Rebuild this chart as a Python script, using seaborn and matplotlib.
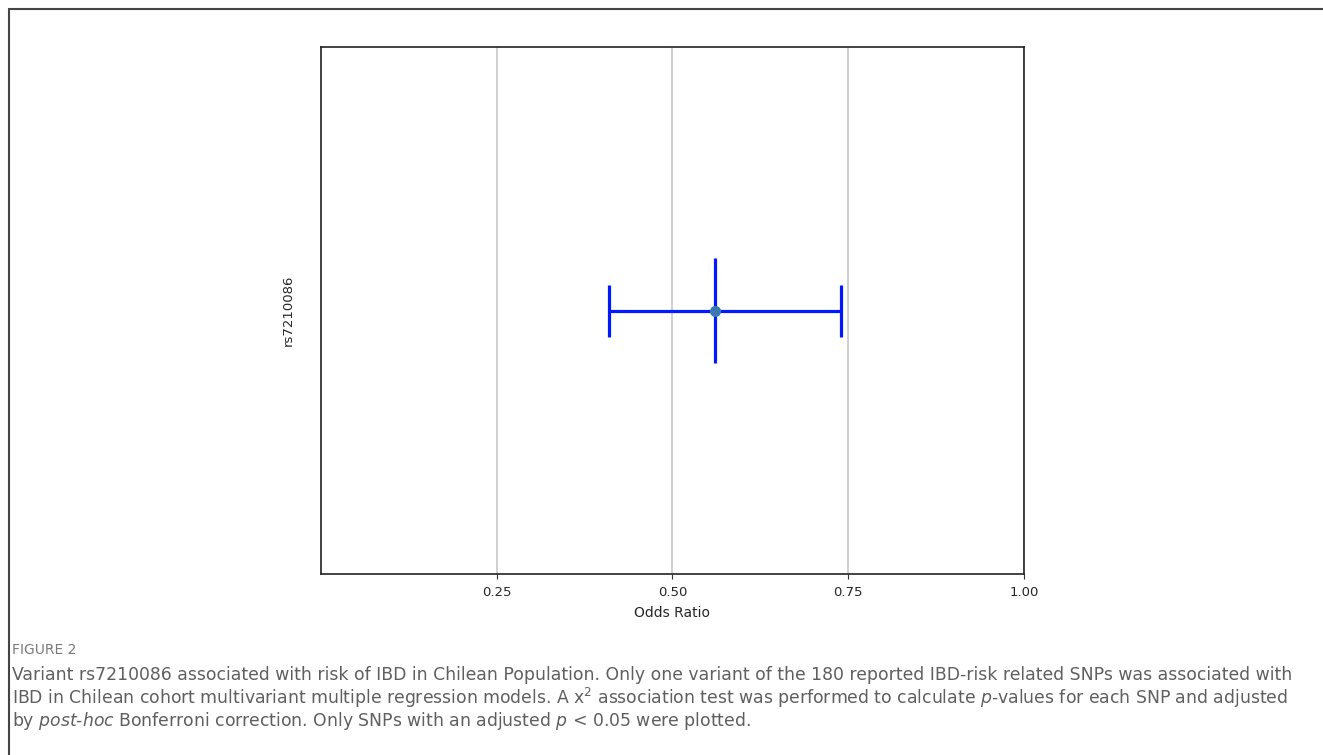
import numpy as np
import pandas as pd

import matplotlib
matplotlib.use("Agg")
import matplotlib.pyplot as plt
from matplotlib.lines import Line2D
import seaborn as sns

# ---------------------
# Data
# ---------------------

snps = ["rs7210086"]
odds_ratio = [0.56]
ci_low = [0.41]
ci_high = [0.74]
x_ticks = [0.25, 0.50, 0.75, 1.00]

df = pd.DataFrame({"snp": snps, "or": odds_ratio,
                   "low": ci_low, "high": ci_high})

sns.set_style("white")
plt.rcParams["font.family"] = ["DejaVu Sans"]

fig = plt.figure(figsize=(13.23, 7.55), dpi=100)
ax = fig.add_axes([0.2426, 0.2397, 0.5314, 0.6980])

# ---------------------
# Forest plot
# ---------------------

ax.errorbar(
    df["or"], np.arange(len(df)),
    xerr=[df["or"] - df["low"], df["high"] - df["or"]],
    fmt="none", ecolor="#0019ff", elinewidth=2.3,
    capsize=19, capthick=2.3, zorder=3
)
ax.errorbar(
    df["or"], np.arange(len(df)), yerr=0.1,
    fmt="none", ecolor="#0019ff", elinewidth=2.3, zorder=3
)

sns.pointplot(
    data=df, x="or", y="snp", orient="h",
    color="#3a78b0", linestyle="none", markersize=6,
    errorbar=None, ax=ax, zorder=4
)

ax.set_xlim(0, 1.0)
ax.set_ylim(0.5, -0.5)
ax.set_xticks(x_ticks)
ax.set_xticklabels([f"{t:.2f}" for t in x_ticks], fontsize=9.5)
ax.set_yticklabels(snps, rotation=90, va="center", fontsize=9.5)
ax.tick_params(axis="y", length=0, pad=19)
ax.tick_params(axis="x", length=3.5, width=0.8, color="#333333",
               bottom=True, pad=5)
ax.set_xlabel("Odds Ratio", fontsize=10, labelpad=5)
ax.set_ylabel("")
ax.grid(axis="x", color="#cccccc", linewidth=1.3)
ax.set_axisbelow(True)
for s in ax.spines.values():
    s.set_color("#222222")
    s.set_linewidth(1.2)

# ---------------------
# Outer frame and caption
# ---------------------

fig.add_artist(Line2D([9 / 1323, 1], [1 - 9 / 755, 1 - 9 / 755],
                      transform=fig.transFigure, color="#444444", lw=1.5))
fig.add_artist(Line2D([9 / 1323, 9 / 1323], [0, 1 - 9 / 755],
                      transform=fig.transFigure, color="#444444", lw=1.5))

cap_font = ["DejaVu Sans"]
grey = "#5f5f5f"
fig.text(12 / 1323, 1 - 650 / 755, "FIGURE 2", fontsize=10,
         color="#7a7a7a", family=cap_font, va="center")
lines = [
    r"Variant rs7210086 associated with risk of IBD in Chilean Population. Only one variant of the 180 reported IBD-risk related SNPs was associated with",
    r"IBD in Chilean cohort multivariant multiple regression models. A x$^{2}$ association test was performed to calculate $\it{p}$-values for each SNP and adjusted",
    r"by $\it{post}$-$\it{hoc}$ Bonferroni correction. Only SNPs with an adjusted $\it{p}$ < 0.05 were plotted.",
]
for i, t in enumerate(lines):
    fig.text(12 / 1323, 1 - (675 + 23 * i) / 755, t, fontsize=12.4,
             color=grey, family=cap_font, va="center")

plt.savefig("out.png", dpi=100)
